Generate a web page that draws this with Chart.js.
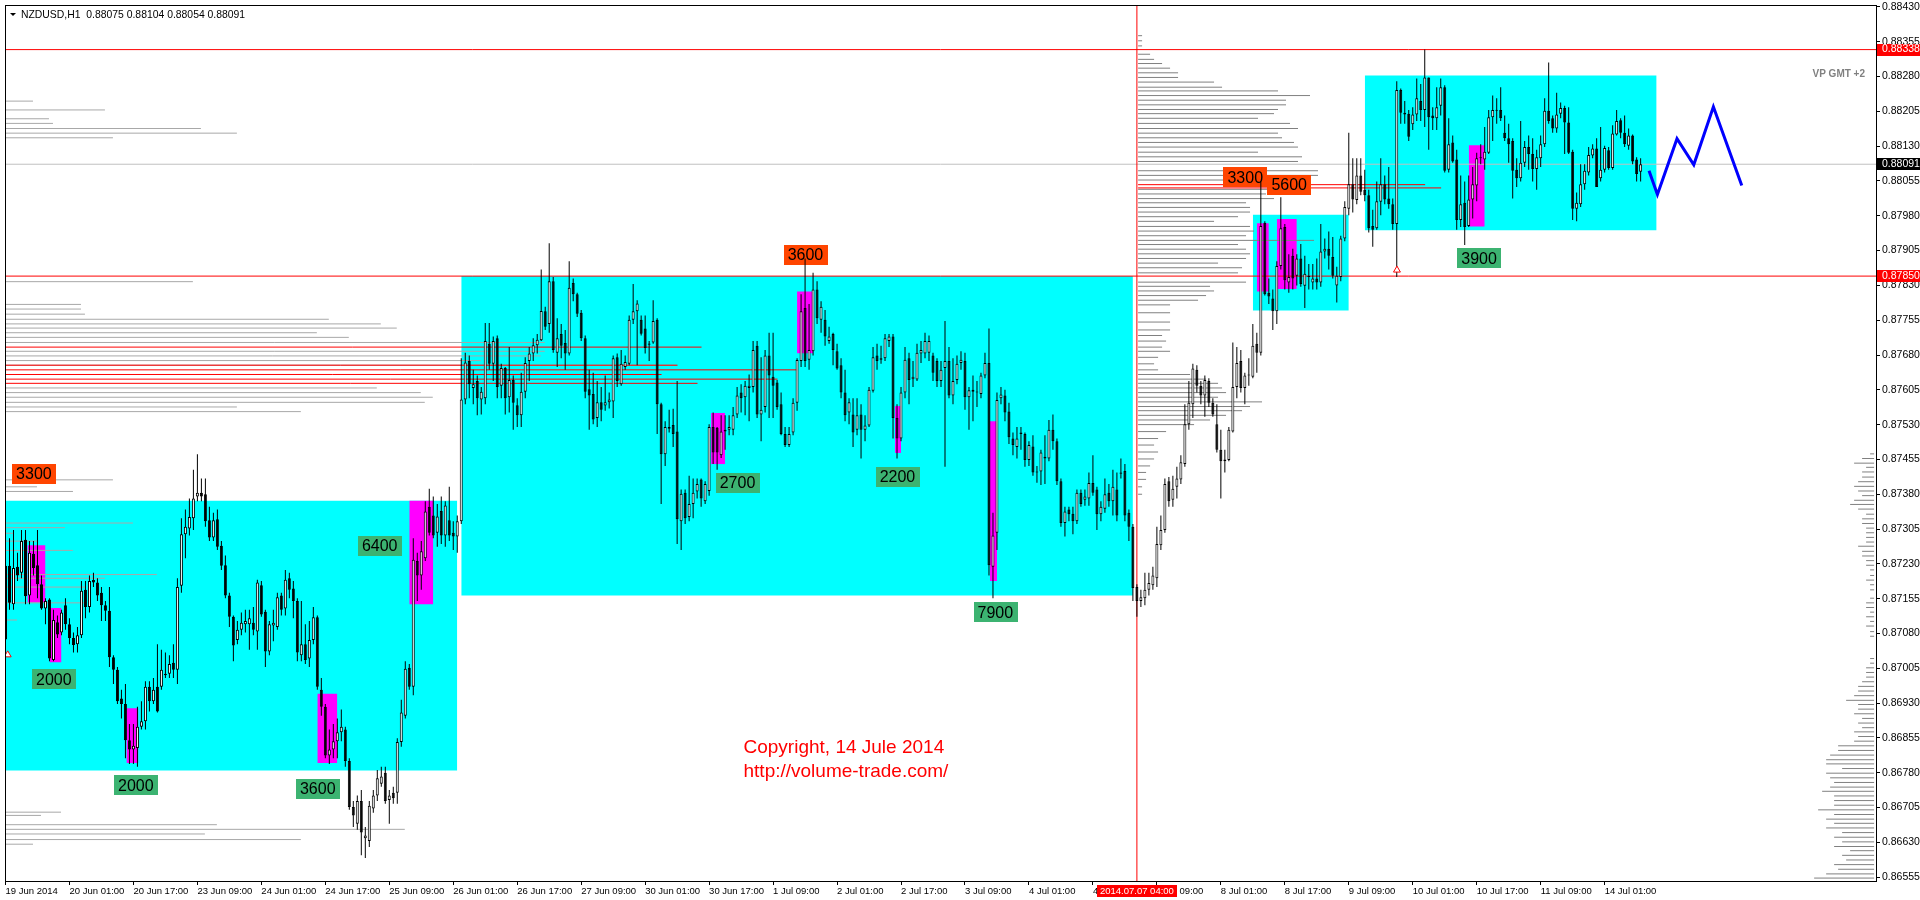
<!DOCTYPE html>
<html>
<head>
<meta charset="utf-8">
<title>NZDUSD,H1</title>
<script src="https://cdn.jsdelivr.net/npm/chart.js@4.4.1/dist/chart.umd.min.js"></script>
<style>
  html, body { margin: 0; padding: 0; background: #fff; }
  canvas { display: block; }
</style>
</head>
<body>
<canvas id="chart" width="1920" height="900"></canvas>
<script>
// NZDUSD H1, bar 0 = 19 Jun 2014 09:00, one bar per hour (weekends skipped)
// prices in points (1e-5)
const opens = [
  87067,87226,87143,87224,87211,87282,87162,87252,87227,87186,
  87134,87153,87023,87104,87082,87141,87100,87070,87057,87076,
  87174,87137,87195,87190,87168,87141,87129,87029,87002,86940,
  86928,86850,86830,86833,86879,86891,86965,86934,86965,86965,
  86990,86993,87017,87002,87183,87294,87306,87328,87375,87383,
  87380,87324,87287,87326,87269,87227,87162,87116,87066,87088,
  87100,87100,87103,87084,87184,87127,87041,87097,87094,87162,
  87134,87199,87177,87150,87033,87057,87026,87066,87115,86959,
  86922,86817,86830,86848,86867,86873,86805,86706,86670,86719,
  86639,86633,86703,86731,86756,86780,86721,86737,86737,86846,
  86903,87006,86965,87236,87205,87242,87353,87334,87297,87344,
  87291,87324,87297,87289,87322,87584,87667,87609,87624,87584,
  87587,87704,87661,87716,87614,87652,87589,87626,87572,87550,
  87601,87667,87683,87701,87712,87774,87747,87839,87685,87725,
  87706,87683,87835,87811,87771,87716,87606,87596,87544,87578,
  87571,87578,87580,87675,87617,87654,87661,87756,87774,87756,
  87737,87702,87707,87756,87574,87466,87521,87529,87515,87322,
  87383,87331,87359,87386,87412,87365,87387,87525,87523,87464,
  87515,87519,87519,87552,87599,87589,87609,87611,87700,87552,
  87568,87679,87633,87621,87574,87510,87486,87513,87577,87667,
  87781,87670,87688,87821,87756,87756,87710,87725,87688,87658,
  87599,87556,87552,87519,87552,87519,87528,87603,87679,87670,
  87673,87710,87720,87544,87500,87599,87673,87628,87627,87683,
  87683,87685,87679,87667,87624,87652,87667,87593,87626,87663,
  87667,87589,87601,87599,87596,87636,87663,87224,87297,87587,
  87593,87558,87500,87482,87510,87510,87454,87483,87427,87429,
  87457,87457,87519,87494,87408,87318,87347,87338,87322,87383,
  87368,87371,87404,87390,87337,87349,87383,87365,87390,87424,
  87430,87340,87310,87180,87150,87156,87174,87184,87199,87270,
  87303,87408,87368,87396,87412,87445,87531,87574,87648,87614,
  87593,87624,87577,87531,87476,87451,87454,87515,87611,87667,
  87609,87636,87633,87704,87685,87965,87814,87802,87774,87872,
  87956,87836,87894,87851,87888,87829,87848,87836,87845,87836,
  87903,87909,87891,87830,87848,87931,87995,88048,88014,88067,
  88036,88024,87958,87953,88010,88048,88017,88005,87962,88251,
  88198,88200,88177,88198,88227,88208,88278,88196,88190,88217,
  88257,88079,88138,88101,87971,88008,87958,88015,88045,88104,
  88101,88116,88192,88206,88208,88159,88147,88141,88079,88061,
  88094,88128,88113,88081,88104,88134,88206,88190,88168,88200,
  88212,88181,88118,87995,88005,88048,88073,88110,88125,88061,
  88079,88121,88083,88155,88186,88159,88131,88153,88101,88075
];
const highs = [
  87252,87285,87303,87254,87303,87303,87279,87279,87303,87205,
  87156,87156,87131,87119,87131,87156,87113,87082,87094,87193,
  87193,87205,87211,87199,87180,87150,87180,87033,87008,86959,
  86971,86885,86885,86922,86934,86977,86977,86984,87057,87045,
  87039,87033,87057,87199,87328,87347,87371,87433,87466,87414,
  87414,87353,87340,87347,87279,87248,87168,87119,87107,87125,
  87131,87131,87137,87196,87193,87131,87107,87131,87168,87168,
  87217,87211,87193,87156,87150,87100,87107,87137,87119,86984,
  86928,86873,86885,86897,86916,86879,86811,86719,86731,86743,
  86663,86719,86743,86786,86793,86793,86743,86750,86854,86937,
  87020,87014,87285,87254,87279,87365,87392,87375,87359,87375,
  87365,87396,87322,87334,87673,87685,87679,87648,87636,87611,
  87749,87749,87720,87722,87661,87654,87697,87636,87587,87642,
  87675,87697,87716,87725,87864,87784,87921,87848,87759,87747,
  87734,87882,87845,87814,87777,87722,87648,87642,87624,87611,
  87636,87599,87679,87683,87691,87679,87765,87833,87798,87765,
  87765,87710,87798,87759,87577,87537,87562,87564,87624,87390,
  87390,87420,87414,87414,87414,87408,87531,87556,87525,87550,
  87550,87550,87568,87611,87617,87624,87638,87710,87710,87675,
  87691,87728,87728,87626,87599,87525,87525,87587,87673,87811,
  87888,87790,87857,87839,87796,87777,87741,87728,87704,87673,
  87648,87587,87587,87587,87574,87550,87611,87697,87704,87700,
  87725,87725,87725,87574,87611,87697,87685,87667,87704,87710,
  87728,87722,87685,87673,87667,87753,87697,87673,87679,87688,
  87685,87611,87636,87624,87642,87685,87737,87340,87599,87611,
  87605,87577,87513,87525,87525,87513,87494,87507,87441,87476,
  87507,87540,87552,87500,87414,87353,87353,87353,87390,87390,
  87390,87427,87464,87396,87365,87414,87402,87433,87427,87457,
  87445,87347,87316,87186,87174,87211,87211,87224,87310,87334,
  87414,87417,87420,87439,87464,87574,87624,87661,87658,87624,
  87636,87630,87587,87574,87519,87476,87525,87707,87697,87691,
  87642,87673,87747,87728,88054,87968,87845,87821,87882,88020,
  87962,87897,87909,87897,87919,87894,87876,87876,87888,87962,
  87931,87946,87934,87870,87937,88011,88159,88104,88104,88104,
  88079,88036,87993,88054,88104,88067,88085,88017,88270,88254,
  88227,88208,88214,88276,88264,88338,88278,88214,88257,88276,
  88261,88190,88153,88122,88067,88054,88067,88085,88116,88134,
  88171,88208,88239,88233,88257,88196,88178,88147,88104,88184,
  88141,88153,88147,88122,88153,88233,88310,88196,88245,88224,
  88217,88214,88122,88030,88091,88091,88128,88134,88147,88171,
  88131,88128,88175,88208,88190,88196,88168,88155,88106,88104
];
const lows = [
  87060,87131,87131,87193,87199,87143,87143,87205,87156,87131,
  87100,87020,87020,87070,87076,87088,87057,87039,87039,87070,
  87113,87125,87180,87150,87107,87107,87008,86971,86928,86897,
  86811,86799,86799,86793,86873,86873,86912,86928,86910,86959,
  86984,86984,86984,86971,87168,87242,87291,87303,87365,87365,
  87310,87279,87279,87260,87217,87156,87094,87020,87057,87076,
  87082,87045,87076,87045,87116,87008,87033,87063,87088,87119,
  87119,87156,87113,87020,87020,87014,87008,87057,86959,86903,
  86811,86799,86811,86811,86848,86793,86700,86663,86657,86602,
  86596,86620,86694,86719,86750,86713,86670,86713,86713,86836,
  86897,86959,86947,87150,87174,87236,87291,87285,87267,87273,
  87267,87279,87260,87254,87316,87574,87587,87574,87550,87552,
  87574,87648,87624,87587,87587,87552,87556,87519,87525,87525,
  87587,87624,87667,87683,87710,87734,87728,87685,87654,87673,
  87648,87679,87796,87762,87710,87587,87519,87531,87525,87537,
  87560,87565,87544,87611,87614,87648,87658,87747,87658,87722,
  87683,87667,87704,87510,87359,87441,87513,87482,87273,87260,
  87316,87322,87328,87371,87353,87359,87377,87445,87433,87458,
  87476,87507,87507,87544,87556,87550,87537,87599,87544,87494,
  87556,87544,87544,87562,87507,87482,87482,87507,87560,87654,
  87654,87648,87679,87747,87728,87700,87704,87658,87648,87587,
  87537,87531,87482,87507,87457,87494,87525,87599,87648,87661,
  87667,87697,87500,87457,87494,87587,87574,87611,87624,87663,
  87673,87667,87624,87611,87611,87439,87587,87574,87617,87648,
  87562,87519,87537,87568,87587,87630,87205,87156,87260,87574,
  87537,87488,87464,87457,87476,87439,87441,87420,87405,87400,
  87402,87451,87476,87400,87310,87289,87322,87294,87316,87353,
  87355,87355,87377,87303,87322,87340,87353,87334,87322,87414,
  87322,87279,87150,87116,87137,87141,87162,87174,87180,87260,
  87297,87353,87353,87371,87402,87439,87519,87544,87599,87574,
  87547,87568,87547,87470,87371,87427,87451,87513,87587,87599,
  87574,87614,87630,87642,87679,87808,87790,87734,87747,87864,
  87821,87814,87821,87830,87827,87781,87821,87821,87821,87827,
  87888,87864,87845,87793,87839,87925,87981,87987,88005,88024,
  88011,87944,87913,87950,87981,88005,87995,87950,87848,88178,
  88178,88141,88165,88184,88184,88171,88122,88165,88165,88196,
  88073,88073,88094,87950,87956,87917,87956,87974,88011,88091,
  88079,88113,88141,88178,88184,88141,88094,88017,88042,88054,
  88085,88079,88054,88036,88085,88128,88178,88159,88159,88190,
  88113,88113,87971,87968,87999,88036,88067,88104,88042,88054,
  88073,88079,88079,88153,88147,88128,88122,88091,88054,88054
];
const closes = [
  87226,87146,87221,87205,87279,87160,87254,87221,87186,87134,
  87150,87026,87109,87078,87125,87100,87070,87055,87076,87172,
  87137,87193,87190,87162,87141,87129,87029,87002,86934,86928,
  86850,86830,86838,86879,86891,86965,86934,86959,86912,87002,
  86993,87014,87002,87180,87294,87310,87331,87371,87383,87375,
  87322,87287,87324,87267,87226,87162,87116,87054,87088,87103,
  87107,87113,87088,87190,87121,87041,87100,87103,87158,87131,
  87196,87174,87150,87039,87057,87023,87066,87115,86965,86922,
  86817,86830,86848,86867,86879,86805,86706,86688,86719,86651,
  86645,86709,86731,86768,86772,86719,86731,86725,86846,86910,
  87004,86965,87239,87205,87257,87343,87297,87291,87332,87291,
  87356,87291,87289,87322,87584,87664,87617,87617,87587,87601,
  87710,87661,87710,87611,87652,87587,87626,87577,87550,87601,
  87663,87683,87701,87713,87775,87741,87839,87691,87716,87700,
  87683,87825,87811,87769,87716,87601,87593,87541,87578,87562,
  87578,87584,87673,87624,87661,87665,87756,87774,87791,87726,
  87695,87705,87753,87574,87466,87525,87525,87510,87326,87381,
  87328,87359,87383,87402,87371,87402,87525,87470,87470,87515,
  87519,87525,87550,87593,87587,87614,87614,87691,87552,87562,
  87679,87636,87614,87568,87510,87486,87510,87577,87669,87774,
  87667,87691,87821,87759,87784,87720,87720,87691,87651,87599,
  87550,87578,87513,87550,87519,87528,87605,87675,87667,87673,
  87716,87720,87544,87500,87599,87670,87626,87633,87685,87691,
  87710,87710,87642,87624,87648,87667,87593,87624,87661,87670,
  87589,87604,87605,87601,87636,87663,87227,87291,87583,87595,
  87556,87503,87486,87500,87513,87454,87486,87427,87429,87470,
  87461,87519,87494,87408,87318,87343,87337,87322,87383,87359,
  87375,87404,87383,87337,87353,87380,87365,87396,87334,87427,
  87334,87310,87178,87150,87158,87174,87189,87205,87273,87303,
  87402,87365,87392,87414,87449,87531,87577,87651,87614,87593,
  87626,87577,87552,87476,87451,87455,87519,87611,87663,87609,
  87636,87638,87700,87685,87958,87811,87806,87774,87872,87953,
  87841,87848,87845,87888,87833,87855,87851,87845,87836,87903,
  87909,87894,87851,87851,87931,87999,88048,88015,88067,88032,
  88024,87953,87950,88011,88048,88015,88005,87962,88251,88202,
  88202,88150,88198,88233,88208,88278,88192,88190,88214,88257,
  88077,88134,88097,87971,88005,87956,88015,88048,88104,88106,
  88118,88192,88208,88208,88190,88147,88134,88077,88061,88094,
  88128,88113,88081,88106,88134,88206,88184,88168,88198,88212,
  88181,88116,87995,88008,88048,88077,88111,88125,88042,88079,
  88126,88083,88157,88184,88159,88134,88153,88097,88070,88091
];

// time axis: one label every 16 bars
const tickBars = [0,16,32,48,64,80,96,112,128,144,160,176,192,208,224,240,256,272,288,304,320,336,352,368,384,400];
const tickLabels = ['19 Jun 2014','20 Jun 01:00','20 Jun 17:00','23 Jun 09:00','24 Jun 01:00','24 Jun 17:00',
  '25 Jun 09:00','26 Jun 01:00','26 Jun 17:00','27 Jun 09:00','30 Jun 01:00','30 Jun 17:00','1 Jul 09:00',
  '2 Jul 01:00','2 Jul 17:00','3 Jul 09:00','4 Jul 01:00','4 Jul 17:00','7 Jul 09:00','8 Jul 01:00',
  '8 Jul 17:00','9 Jul 09:00','10 Jul 01:00','10 Jul 17:00','11 Jul 09:00','14 Jul 01:00'];
// price axis labels
const priceTicks = [0.86555,0.86630,0.86705,0.86780,0.86855,0.86930,0.87005,0.87080,0.87155,0.87230,
  0.87305,0.87380,0.87455,0.87530,0.87605,0.87680,0.87755,0.87830,0.87905,0.87980,
  0.88055,0.88130,0.88205,0.88280,0.88355,0.88430];

// trading ranges (cyan) : bars and prices
const zoneFrom = [-1, 114, 312, 340];
const zoneTo = [113, 282, 336, 413];
const zoneTop = [0.87366, 0.87850, 0.87982, 0.88282];
const zoneBottom = [0.86785, 0.87162, 0.87776, 0.87949];

// volume spikes (magenta)
const spikeFrom = [5.5, 11, 30.25, 78, 101, 176.5, 198, 222.5, 246.25, 313, 318, 366];
const spikeTo = [10, 14, 33.25, 83, 107, 180, 202, 224, 248, 316, 323, 370];
const spikeTop = [0.87270, 0.87135, 0.86919, 0.86950, 0.87366, 0.87555, 0.87817, 0.87570, 0.87537, 0.87964, 0.87973, 0.88132];
const spikeBottom = [0.87147, 0.87018, 0.86801, 0.86801, 0.87143, 0.87445, 0.87684, 0.87469, 0.87193, 0.87817, 0.87822, 0.87957];

// volume tags
const tagTexts = ['3300','2000','2000','3600','6400','2700','3600','2200','7900','3300','5600','3900'];
const tagBars = [7.1, 12.1, 32.6, 78.1, 93.6, 183.1, 200.1, 223.1, 247.6, 310.1, 321.1, 368.6];
const tagPrices = [0.87424, 0.86981, 0.86753, 0.86745, 0.87269, 0.87405, 0.87896, 0.87417, 0.87126, 0.88063, 0.88047, 0.87888];
const tagSide = ['sell','buy','buy','buy','buy','buy','sell','buy','buy','sell','sell','buy'];

// horizontal levels
const redLevels = [0.88338, 0.87850];
const bidLevel = 0.88091;
const redSegPrices = [0.87697, 0.87658, 0.87648, 0.87638, 0.87628, 0.87619, 0.88047, 0.88040];
const redSegFrom = [-1, -1, -1, -1, -1, -1, 283.3, 283.3];
const redSegTo = [174.1, 168.1, 198.1, 164.1, 193.1, 173.1, 355.1, 359.1];
const sessionBar = 283; // 2014.07.07 04:00

// volume profiles (price points, length in bars)
const leftVpPrices = [88227,88208,88189,88179,88168,88158,88148,87838,87789,87779,87768,87757,87747,87738,87728,87718,
  87707,87688,87678,87668,87658,87609,87599,87589,87578,87568,87558,87411,87396,87386,87318,87308,87296,87279,87259,
  87207,87199,87180,87146,87109,86695,86688,86668,86658,86648,86636,86626];
const leftVpLen = [7,25,11,12,49,58,27,47,19,19,20,81,94,98,78,86,135,135,134,119,168,93,104,107,105,58,74,27,8,17,
  32,15,2,8,17,38,25,20,20,3,14,9,53,100,50,74,7];
const midVpPrices = [88368,88357,88346,88328,88317,88308,88298,88288,88278,88268,88257,88249,88239,88229,88219,88209,
  88200,88190,88179,88168,88158,88148,88138,88128,88117,88107,88097,88077,88067,88057,88037,88027,88017,88008,87998,
  87988,87978,87968,87957,87947,87937,87927,87918,87908,87898,87888,87878,87868,87857,87837,87828,87818,87808,87798,
  87788,87771,87751,87734,87722,87710,87697,87688,87675,87661,87648,87638,87628,87619,87609,87599,87589,87579,87569,
  87560,87550,87540,87530,87515,87500,87486,87471,87456,87441,87427,87412,87396,87380];
const midVpLen = [1,1,1,3,4,6,8,10,10,19,21,35,43,37,37,35,34,30,38,40,35,36,39,40,30,41,40,45,45,35,36,32,34,27,28,
  28,25,19,28,29,27,44,25,27,28,27,20,26,25,27,18,19,17,15,8,8,8,8,6,7,6,8,5,4,5,13,17,20,21,22,20,31,28,26,22,18,14,
  7,5,4,5,4,3,2,2,1,1];
const rightVpPrices = [87467,87457,87447,87438,87428,87417,87407,87397,87387,87377,87367,87358,87348,87337,87327,87317,
  87307,87297,87287,87277,87268,87257,87247,87237,87227,87217,87205,87195,87185,87174,87156,87146,87136,87126,87116,
  87106,87096,87084,87074,87026,87016,87006,86996,86986,86976,86966,86956,86946,86936,86927,86917,86907,86897,86887,
  86877,86868,86858,86848,86838,86828,86818,86808,86799,86789,86779,86769,86759,86749,86740,86730,86720,86710,86700,
  86690,86680,86671,86661,86651,86641,86631,86621,86612,86602,86592,86582,86572,86562,86553];
const rightVpLen = [1,3,5,2,3,3,4,5,4,3,5,6,4,2,3,3,2,2,2,2,4,3,3,2,2,1,1,2,1,1,1,2,2,1,2,1,2,1,1,1,1,2,2,2,3,4,4,5,
  7,4,4,5,3,4,3,5,4,5,9,9,11,12,12,8,12,11,10,11,13,10,10,10,14,10,12,10,12,8,10,8,10,6,8,7,10,9,12,15];

// projected path (blue)
const pathBars = [411.1, 413.2, 418.1, 422.3, 427.2, 434.3];
const pathPrices = [0.88077, 0.88026, 0.88146, 0.88090, 0.88215, 0.88045];

// arrows
const arrowBars = [0.55, 348.05];
const arrowPrices = [0.87034, 0.87863];

const xMin = -0.125, xMax = 467.875;
const yMin = 0.865467, yMax = 0.884341;
const FONT = '"Liberation Sans", Arial, sans-serif';
Chart.defaults.font.family = FONT;

const pts = v => v / 100000;
const idx = opens.map((_, i) => i);

function rect(from, to, top, bottom, color, order) {
  return {
    type: 'line', order,
    data: [{ x: from, y: top }, { x: to, y: top }],
    borderColor: 'rgba(0,0,0,0)', borderWidth: 1, pointRadius: 0,
    backgroundColor: color, fill: { value: bottom }
  };
}

function segments(prices, from, to) {
  const out = [];
  prices.forEach((p, k) => {
    out.push({ x: from[k], y: p }, { x: to[k], y: p }, { x: to[k], y: null });
  });
  return out;
}

function profile(prices, lens, anchor, dir) {
  const out = [];
  prices.forEach((p, k) => {
    out.push({ x: anchor, y: pts(p) }, { x: anchor + dir * lens[k], y: pts(p) }, { x: anchor, y: null });
  });
  return out;
}

const lineSet = (data, color, order, width) => ({
  type: 'line', order, data, borderColor: color, borderWidth: width || 1,
  pointRadius: 0, fill: false, spanGaps: false
});

const datasets = [];
zoneFrom.forEach((f, k) => datasets.push(rect(f, zoneTo[k], zoneTop[k], zoneBottom[k], '#00ffff', 20)));
spikeFrom.forEach((f, k) => datasets.push(rect(f, spikeTo[k], spikeTop[k], spikeBottom[k], '#ff00ff', 18)));
datasets.push(lineSet(profile(leftVpPrices, leftVpLen, xMin, 1), '#a8a8a8', 12));
datasets.push(lineSet(profile(midVpPrices, midVpLen, 283.3, 1), '#808080', 12));
datasets.push(lineSet(profile(rightVpPrices, rightVpLen, 467.4, -1), '#808080', 12));
datasets.push(lineSet([{ x: xMin, y: bidLevel }, { x: xMax, y: bidLevel }], '#c0c0c0', 11));
datasets.push(lineSet(segments(redLevels, redLevels.map(() => xMin), redLevels.map(() => xMax)), '#ff0000', 10));
datasets.push(lineSet(segments(redSegPrices, redSegFrom, redSegTo), '#ff0000', 10));
datasets.push(lineSet([{ x: sessionBar, y: yMin }, { x: sessionBar, y: yMax }], '#ff0000', 10));
datasets.push({
  type: 'bar', label: 'wicks', order: 3, grouped: false,
  data: idx.map(i => ({ x: i, y: [pts(lows[i]), pts(highs[i])] })),
  backgroundColor: '#000', borderWidth: 0, barThickness: 1, minBarLength: 1, inflateAmount: 0
});
datasets.push({
  type: 'bar', label: 'bodies', order: 2, grouped: false,
  data: idx.map(i => ({ x: i, y: [pts(opens[i]), pts(closes[i])] })),
  backgroundColor: idx.map(i => closes[i] >= opens[i] ? '#ffffff' : '#000000'),
  borderColor: '#000', borderWidth: 1, borderSkipped: false,
  barThickness: 3, minBarLength: 1, inflateAmount: 0
});
datasets.push(lineSet(pathBars.map((b, k) => ({ x: b, y: pathPrices[k] })), '#0000ff', 1, 3));
datasets.push({
  type: 'line', order: 0, showLine: false,
  data: arrowBars.map((b, k) => ({ x: b, y: arrowPrices[k] })),
  pointStyle: 'triangle', pointRadius: 4, pointBorderColor: '#ff0000',
  pointBackgroundColor: '#ffffff', pointBorderWidth: 1
});

function drawTags(chart) {
  const { ctx, scales: { x, y } } = chart;
  ctx.save();
  ctx.font = '16px ' + FONT;
  ctx.textAlign = 'center';
  ctx.textBaseline = 'middle';
  tagTexts.forEach((t, k) => {
    const cx = x.getPixelForValue(tagBars[k]);
    const cy = y.getPixelForValue(tagPrices[k]);
    const w = ctx.measureText(t).width + 8;
    ctx.fillStyle = tagSide[k] === 'sell' ? '#ff4500' : '#3cb371';
    ctx.fillRect(Math.round(cx - w / 2), Math.round(cy - 10), Math.round(w), 20);
    ctx.fillStyle = '#000';
    ctx.fillText(t, cx, cy + 1);
  });
  // copyright note
  ctx.font = '19px ' + FONT;
  ctx.textAlign = 'left';
  ctx.textBaseline = 'alphabetic';
  ctx.fillStyle = '#ff0000';
  const nx = x.getPixelForValue(184.6), ny = y.getPixelForValue(0.86823);
  ctx.fillText('Copyright, 14 Jule 2014', nx, ny);
  ctx.fillText('http://volume-trade.com/', nx, ny + 24);
  ctx.restore();
}

function priceTag(chart, value, bg) {
  const { ctx, chartArea } = chart;
  const py = chart.scales.y.getPixelForValue(value);
  const x0 = chartArea.right + 1;
  ctx.fillStyle = bg;
  ctx.fillRect(x0, Math.round(py) - 6, chart.width - x0, 12);
  ctx.fillStyle = '#fff';
  ctx.font = '10.5px ' + FONT;
  ctx.textAlign = 'left';
  ctx.textBaseline = 'middle';
  ctx.fillText(value.toFixed(5), chartArea.right + 6, py);
}

const mtObjects = {
  id: 'mtObjects',
  beforeDatasetDraw(chart, args) {
    if (chart.data.datasets[args.index].label === 'wicks') drawTags(chart);
  },
  afterDraw(chart) {
    const { ctx, chartArea: a } = chart;
    ctx.save();
    ctx.strokeStyle = '#000';
    ctx.lineWidth = 1;
    ctx.strokeRect(a.left + 0.5, a.top + 0.5, a.right - a.left, a.bottom - a.top);
    // symbol header
    ctx.fillStyle = '#000';
    ctx.beginPath();
    ctx.moveTo(a.left + 5, a.top + 8); ctx.lineTo(a.left + 11, a.top + 8); ctx.lineTo(a.left + 8, a.top + 11);
    ctx.closePath(); ctx.fill();
    ctx.font = '10.4px ' + FONT;
    ctx.textAlign = 'left';
    ctx.textBaseline = 'middle';
    ctx.fillText('NZDUSD,H1  0.88075 0.88104 0.88054 0.88091', a.left + 16, a.top + 10);
    ctx.font = 'bold 10px ' + FONT;
    ctx.fillStyle = '#808080';
    ctx.textAlign = 'right';
    ctx.fillText('VP GMT +2', a.right - 11, a.top + 69);
    // price tags
    priceTag(chart, redLevels[0], '#ff0000');
    priceTag(chart, bidLevel, '#000000');
    priceTag(chart, redLevels[1], '#ff0000');
    // session time tag
    const sx = chart.scales.x.getPixelForValue(sessionBar);
    ctx.fillStyle = '#ff0000';
    ctx.fillRect(Math.round(sx - 40), a.bottom + 4, 80, 12);
    ctx.fillStyle = '#fff';
    ctx.font = '9.5px ' + FONT;
    ctx.textAlign = 'center';
    ctx.fillText('2014.07.07 04:00', sx, a.bottom + 10);
    ctx.restore();
  }
};

new Chart(document.getElementById('chart'), {
  type: 'line',
  data: { datasets },
  options: {
    responsive: false,
    devicePixelRatio: 1,
    animation: false,
    events: [],
    layout: { padding: { left: 4, top: 1, right: 0, bottom: 0 } },
    plugins: { legend: { display: false }, tooltip: { enabled: false } },
    elements: { point: { radius: 0 }, line: { tension: 0 } },
    scales: {
      x: {
        type: 'linear', min: xMin, max: xMax, offset: false,
        grid: { drawOnChartArea: false, drawTicks: true, tickLength: 4, color: '#000', offset: false },
        border: { display: false },
        afterBuildTicks: s => { s.ticks = tickBars.map(v => ({ value: v })); },
        afterFit: s => { s.height = 19; s.paddingLeft = 0; s.paddingRight = 0; },
        ticks: {
          autoSkip: false, maxRotation: 0, minRotation: 0, align: 'start', padding: 1,
          color: '#000', font: { size: 9.5 },
          callback: (v, i) => tickLabels[i]
        }
      },
      y: {
        type: 'linear', position: 'right', min: yMin, max: yMax,
        grid: { drawOnChartArea: false, drawTicks: true, tickLength: 4, color: '#000' },
        border: { display: false },
        afterBuildTicks: s => { s.ticks = priceTicks.map(v => ({ value: v })); },
        afterFit: s => { s.width = 44; s.paddingTop = 0; s.paddingBottom = 0; },
        ticks: {
          padding: 2, crossAlign: 'near', color: '#000', font: { size: 10.5 },
          callback: v => v.toFixed(5)
        }
      }
    }
  },
  plugins: [mtObjects]
});
</script>
</body>
</html>
